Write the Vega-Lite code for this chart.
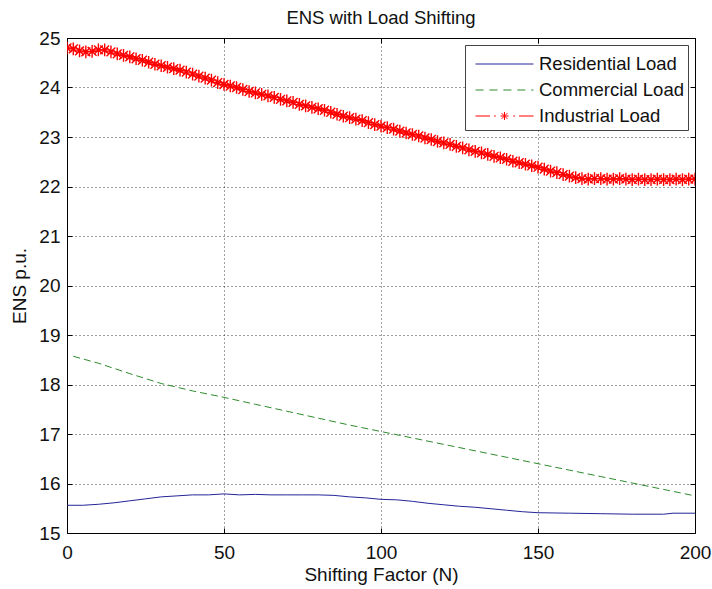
{
  "$schema": "https://vega.github.io/schema/vega-lite/v6.json",
  "width": 628,
  "height": 495,
  "autosize": {"type": "none"},
  "padding": {"left": 67, "top": 38, "right": 17, "bottom": 56},
  "background": "white",
  "config": {
    "font": "Liberation Sans",
    "view": {"stroke": "black", "strokeWidth": 1},
    "axis": {
      "labelFont": "Liberation Sans",
      "labelFontSize": 19,
      "labelColor": "#111",
      "titleFont": "Liberation Sans",
      "titleFontSize": 19,
      "titleFontWeight": "normal",
      "titleColor": "#111",
      "domain": false,
      "grid": true,
      "gridColor": "#000",
      "gridDash": [1, 3],
      "gridOpacity": 0.75,
      "gridWidth": 1,
      "ticks": true,
      "tickSize": -5,
      "tickColor": "#000",
      "tickWidth": 1
    },
    "legend": {
      "orient": "top-right", "offset": 7, "padding": 4, "rowPadding": 1,
      "labelFont": "Liberation Sans", "labelFontSize": 18.5, "labelColor": "#111", "labelOffset": 40, "labelLimit": 300,
      "fillColor": "white", "strokeColor": "#444", "symbolSize": 841, "symbolStrokeWidth": 1
    }
  },
  "title": {
    "text": "ENS with Load Shifting",
    "font": "Liberation Sans",
    "fontSize": 18.5,
    "fontWeight": "normal",
    "color": "#111",
    "anchor": "middle",
    "frame": "group",
    "offset": 2
  },
  "datasets": {
    "d": [
      {"series": "Residential Load", "N": 0, "ENS": 15.56},
      {"series": "Residential Load", "N": 5, "ENS": 15.56},
      {"series": "Residential Load", "N": 10, "ENS": 15.58},
      {"series": "Residential Load", "N": 15, "ENS": 15.61},
      {"series": "Residential Load", "N": 20, "ENS": 15.65},
      {"series": "Residential Load", "N": 25, "ENS": 15.69},
      {"series": "Residential Load", "N": 30, "ENS": 15.73},
      {"series": "Residential Load", "N": 35, "ENS": 15.75},
      {"series": "Residential Load", "N": 40, "ENS": 15.77},
      {"series": "Residential Load", "N": 45, "ENS": 15.77},
      {"series": "Residential Load", "N": 50, "ENS": 15.79},
      {"series": "Residential Load", "N": 55, "ENS": 15.77},
      {"series": "Residential Load", "N": 60, "ENS": 15.78},
      {"series": "Residential Load", "N": 65, "ENS": 15.77},
      {"series": "Residential Load", "N": 70, "ENS": 15.77},
      {"series": "Residential Load", "N": 75, "ENS": 15.77},
      {"series": "Residential Load", "N": 80, "ENS": 15.77},
      {"series": "Residential Load", "N": 85, "ENS": 15.76},
      {"series": "Residential Load", "N": 90, "ENS": 15.73},
      {"series": "Residential Load", "N": 95, "ENS": 15.71},
      {"series": "Residential Load", "N": 100, "ENS": 15.68},
      {"series": "Residential Load", "N": 105, "ENS": 15.67},
      {"series": "Residential Load", "N": 110, "ENS": 15.64},
      {"series": "Residential Load", "N": 115, "ENS": 15.6},
      {"series": "Residential Load", "N": 120, "ENS": 15.57},
      {"series": "Residential Load", "N": 125, "ENS": 15.54},
      {"series": "Residential Load", "N": 130, "ENS": 15.52},
      {"series": "Residential Load", "N": 135, "ENS": 15.49},
      {"series": "Residential Load", "N": 140, "ENS": 15.46},
      {"series": "Residential Load", "N": 145, "ENS": 15.43},
      {"series": "Residential Load", "N": 150, "ENS": 15.41},
      {"series": "Residential Load", "N": 160, "ENS": 15.4},
      {"series": "Residential Load", "N": 170, "ENS": 15.39},
      {"series": "Residential Load", "N": 180, "ENS": 15.38},
      {"series": "Residential Load", "N": 190, "ENS": 15.38},
      {"series": "Residential Load", "N": 193, "ENS": 15.4},
      {"series": "Residential Load", "N": 200, "ENS": 15.4},
      {"series": "Commercial Load", "N": 2, "ENS": 18.57},
      {"series": "Commercial Load", "N": 10, "ENS": 18.43},
      {"series": "Commercial Load", "N": 20, "ENS": 18.22},
      {"series": "Commercial Load", "N": 30, "ENS": 18.02},
      {"series": "Commercial Load", "N": 40, "ENS": 17.87},
      {"series": "Commercial Load", "N": 50, "ENS": 17.74},
      {"series": "Commercial Load", "N": 60, "ENS": 17.6},
      {"series": "Commercial Load", "N": 70, "ENS": 17.46},
      {"series": "Commercial Load", "N": 80, "ENS": 17.32},
      {"series": "Commercial Load", "N": 90, "ENS": 17.18},
      {"series": "Commercial Load", "N": 100, "ENS": 17.05},
      {"series": "Commercial Load", "N": 110, "ENS": 16.92},
      {"series": "Commercial Load", "N": 120, "ENS": 16.79},
      {"series": "Commercial Load", "N": 130, "ENS": 16.66},
      {"series": "Commercial Load", "N": 140, "ENS": 16.53},
      {"series": "Commercial Load", "N": 150, "ENS": 16.4},
      {"series": "Commercial Load", "N": 160, "ENS": 16.27},
      {"series": "Commercial Load", "N": 170, "ENS": 16.14},
      {"series": "Commercial Load", "N": 180, "ENS": 16.01},
      {"series": "Commercial Load", "N": 190, "ENS": 15.88},
      {"series": "Commercial Load", "N": 200, "ENS": 15.75},
      {"series": "Industrial Load", "N": 0, "ENS": 24.8},
      {"series": "Industrial Load", "N": 2, "ENS": 24.78},
      {"series": "Industrial Load", "N": 4, "ENS": 24.74},
      {"series": "Industrial Load", "N": 6, "ENS": 24.72},
      {"series": "Industrial Load", "N": 8, "ENS": 24.73},
      {"series": "Industrial Load", "N": 10, "ENS": 24.76},
      {"series": "Industrial Load", "N": 12, "ENS": 24.76},
      {"series": "Industrial Load", "N": 14, "ENS": 24.72},
      {"series": "Industrial Load", "N": 16, "ENS": 24.68},
      {"series": "Industrial Load", "N": 18, "ENS": 24.65},
      {"series": "Industrial Load", "N": 20, "ENS": 24.62},
      {"series": "Industrial Load", "N": 22, "ENS": 24.58},
      {"series": "Industrial Load", "N": 24, "ENS": 24.55},
      {"series": "Industrial Load", "N": 26, "ENS": 24.51},
      {"series": "Industrial Load", "N": 28, "ENS": 24.47},
      {"series": "Industrial Load", "N": 30, "ENS": 24.44},
      {"series": "Industrial Load", "N": 32, "ENS": 24.41},
      {"series": "Industrial Load", "N": 34, "ENS": 24.38},
      {"series": "Industrial Load", "N": 36, "ENS": 24.35},
      {"series": "Industrial Load", "N": 38, "ENS": 24.31},
      {"series": "Industrial Load", "N": 40, "ENS": 24.27},
      {"series": "Industrial Load", "N": 42, "ENS": 24.23},
      {"series": "Industrial Load", "N": 44, "ENS": 24.19},
      {"series": "Industrial Load", "N": 46, "ENS": 24.15},
      {"series": "Industrial Load", "N": 48, "ENS": 24.1},
      {"series": "Industrial Load", "N": 50, "ENS": 24.06},
      {"series": "Industrial Load", "N": 52, "ENS": 24.03},
      {"series": "Industrial Load", "N": 54, "ENS": 24.0},
      {"series": "Industrial Load", "N": 56, "ENS": 23.96},
      {"series": "Industrial Load", "N": 58, "ENS": 23.92},
      {"series": "Industrial Load", "N": 60, "ENS": 23.89},
      {"series": "Industrial Load", "N": 62, "ENS": 23.86},
      {"series": "Industrial Load", "N": 64, "ENS": 23.83},
      {"series": "Industrial Load", "N": 66, "ENS": 23.8},
      {"series": "Industrial Load", "N": 68, "ENS": 23.76},
      {"series": "Industrial Load", "N": 70, "ENS": 23.73},
      {"series": "Industrial Load", "N": 72, "ENS": 23.7},
      {"series": "Industrial Load", "N": 74, "ENS": 23.66},
      {"series": "Industrial Load", "N": 76, "ENS": 23.63},
      {"series": "Industrial Load", "N": 78, "ENS": 23.6},
      {"series": "Industrial Load", "N": 80, "ENS": 23.57},
      {"series": "Industrial Load", "N": 82, "ENS": 23.54},
      {"series": "Industrial Load", "N": 84, "ENS": 23.5},
      {"series": "Industrial Load", "N": 86, "ENS": 23.46},
      {"series": "Industrial Load", "N": 88, "ENS": 23.42},
      {"series": "Industrial Load", "N": 90, "ENS": 23.39},
      {"series": "Industrial Load", "N": 92, "ENS": 23.36},
      {"series": "Industrial Load", "N": 94, "ENS": 23.33},
      {"series": "Industrial Load", "N": 96, "ENS": 23.29},
      {"series": "Industrial Load", "N": 98, "ENS": 23.25},
      {"series": "Industrial Load", "N": 100, "ENS": 23.22},
      {"series": "Industrial Load", "N": 102, "ENS": 23.19},
      {"series": "Industrial Load", "N": 104, "ENS": 23.16},
      {"series": "Industrial Load", "N": 106, "ENS": 23.12},
      {"series": "Industrial Load", "N": 108, "ENS": 23.08},
      {"series": "Industrial Load", "N": 110, "ENS": 23.05},
      {"series": "Industrial Load", "N": 112, "ENS": 23.02},
      {"series": "Industrial Load", "N": 114, "ENS": 22.98},
      {"series": "Industrial Load", "N": 116, "ENS": 22.95},
      {"series": "Industrial Load", "N": 118, "ENS": 22.91},
      {"series": "Industrial Load", "N": 120, "ENS": 22.88},
      {"series": "Industrial Load", "N": 122, "ENS": 22.85},
      {"series": "Industrial Load", "N": 124, "ENS": 22.81},
      {"series": "Industrial Load", "N": 126, "ENS": 22.78},
      {"series": "Industrial Load", "N": 128, "ENS": 22.74},
      {"series": "Industrial Load", "N": 130, "ENS": 22.71},
      {"series": "Industrial Load", "N": 132, "ENS": 22.68},
      {"series": "Industrial Load", "N": 134, "ENS": 22.65},
      {"series": "Industrial Load", "N": 136, "ENS": 22.61},
      {"series": "Industrial Load", "N": 138, "ENS": 22.58},
      {"series": "Industrial Load", "N": 140, "ENS": 22.55},
      {"series": "Industrial Load", "N": 142, "ENS": 22.51},
      {"series": "Industrial Load", "N": 144, "ENS": 22.48},
      {"series": "Industrial Load", "N": 146, "ENS": 22.45},
      {"series": "Industrial Load", "N": 148, "ENS": 22.42},
      {"series": "Industrial Load", "N": 150, "ENS": 22.39},
      {"series": "Industrial Load", "N": 152, "ENS": 22.35},
      {"series": "Industrial Load", "N": 154, "ENS": 22.31},
      {"series": "Industrial Load", "N": 156, "ENS": 22.28},
      {"series": "Industrial Load", "N": 158, "ENS": 22.24},
      {"series": "Industrial Load", "N": 160, "ENS": 22.21},
      {"series": "Industrial Load", "N": 162, "ENS": 22.18},
      {"series": "Industrial Load", "N": 164, "ENS": 22.16},
      {"series": "Industrial Load", "N": 166, "ENS": 22.15},
      {"series": "Industrial Load", "N": 168, "ENS": 22.16},
      {"series": "Industrial Load", "N": 170, "ENS": 22.16},
      {"series": "Industrial Load", "N": 172, "ENS": 22.15},
      {"series": "Industrial Load", "N": 174, "ENS": 22.15},
      {"series": "Industrial Load", "N": 176, "ENS": 22.16},
      {"series": "Industrial Load", "N": 178, "ENS": 22.15},
      {"series": "Industrial Load", "N": 180, "ENS": 22.14},
      {"series": "Industrial Load", "N": 182, "ENS": 22.15},
      {"series": "Industrial Load", "N": 184, "ENS": 22.14},
      {"series": "Industrial Load", "N": 186, "ENS": 22.14},
      {"series": "Industrial Load", "N": 188, "ENS": 22.15},
      {"series": "Industrial Load", "N": 190, "ENS": 22.14},
      {"series": "Industrial Load", "N": 192, "ENS": 22.14},
      {"series": "Industrial Load", "N": 194, "ENS": 22.15},
      {"series": "Industrial Load", "N": 196, "ENS": 22.14},
      {"series": "Industrial Load", "N": 198, "ENS": 22.15},
      {"series": "Industrial Load", "N": 200, "ENS": 22.15}
    ]
  },
  "layer": [
    {
      "data": {"name": "d"},
      "transform": [{"filter": "datum.series === 'Residential Load'"}],
      "mark": {"type": "line", "strokeWidth": 1, "color": "#24249a", "clip": true},
      "encoding": {
        "x": {
          "field": "N", "type": "quantitative",
          "scale": {"domain": [0, 200], "nice": false},
          "axis": {"values": [0, 50, 100, 150, 200], "labelPadding": 15, "title": "Shifting Factor (N)", "titlePadding": 3, "labelFlush": false}
        },
        "y": {
          "field": "ENS", "type": "quantitative",
          "scale": {"domain": [15, 25], "nice": false, "zero": false},
          "axis": {"values": [15, 16, 17, 18, 19, 20, 21, 22, 23, 24, 25], "labelPadding": 12, "title": "ENS p.u.", "titlePadding": 9, "labelFlush": false}
        }
      }
    },
    {
      "data": {"name": "d"},
      "transform": [{"filter": "datum.series === 'Commercial Load'"}],
      "mark": {"type": "line", "strokeWidth": 1, "color": "#2e8b2e", "strokeDash": [7, 4], "clip": true},
      "encoding": {
        "x": {"field": "N", "type": "quantitative", "axis": null},
        "y": {"field": "ENS", "type": "quantitative", "axis": null}
      }
    },
    {
      "data": {"name": "d"},
      "transform": [{"filter": "datum.series === 'Industrial Load'"}],
      "mark": {"type": "line", "strokeWidth": 1, "color": "#ff0000", "strokeDash": [8, 3, 2, 3], "clip": true},
      "encoding": {
        "x": {"field": "N", "type": "quantitative", "axis": null},
        "y": {"field": "ENS", "type": "quantitative", "axis": null}
      }
    },
    {
      "data": {"name": "d"},
      "transform": [{"filter": "datum.series === 'Industrial Load'"}],
      "mark": {
        "type": "point", "filled": false, "strokeWidth": 1.4, "color": "#ff0000", "size": 160, "opacity": 1, "clip": true,
        "shape": "M-1,0L1,0M0,-1L0,1M-0.7,-0.7L0.7,0.7M-0.7,0.7L0.7,-0.7"
      },
      "encoding": {
        "x": {"field": "N", "type": "quantitative", "axis": null},
        "y": {"field": "ENS", "type": "quantitative", "axis": null}
      }
    },
    {
      "data": {"name": "d"},
      "transform": [{"filter": "datum.N < 0"}],
      "mark": {"type": "point", "filled": false, "strokeWidth": 1, "opacity": 1},
      "encoding": {
        "x": {
          "field": "N", "type": "quantitative",
          "axis": {"orient": "top", "labels": false, "grid": false, "title": null, "values": [0, 50, 100, 150, 200]}
        },
        "y": {
          "field": "ENS", "type": "quantitative",
          "axis": {"orient": "right", "labels": false, "grid": false, "title": null, "values": [15, 16, 17, 18, 19, 20, 21, 22, 23, 24, 25]}
        },
        "color": {
          "field": "series", "type": "nominal", "title": null,
          "scale": {"domain": ["Residential Load", "Commercial Load", "Industrial Load"], "range": ["#24249a", "#2e8b2e", "#ff0000"]}
        },
        "shape": {
          "field": "series", "type": "nominal", "title": null,
          "scale": {
            "domain": ["Residential Load", "Commercial Load", "Industrial Load"],
            "range": [
              "M-0.586,0L3.414,0",
              "M-0.586,0L-0.026,0M0.374,0L0.934,0M1.334,0L1.894,0M2.294,0L2.854,0M3.254,0L3.414,0",
              "M-0.586,0L0.414,0M0.694,0L0.814,0M2.014,0L2.134,0M2.414,0L3.414,0M1.134,0L1.694,0M1.414,-0.28L1.414,0.28M1.214,-0.2L1.614,0.2M1.214,0.2L1.614,-0.2"
            ]
          }
        }
      }
    }
  ],
  "resolve": {"axis": {"x": "independent", "y": "independent"}}
}
